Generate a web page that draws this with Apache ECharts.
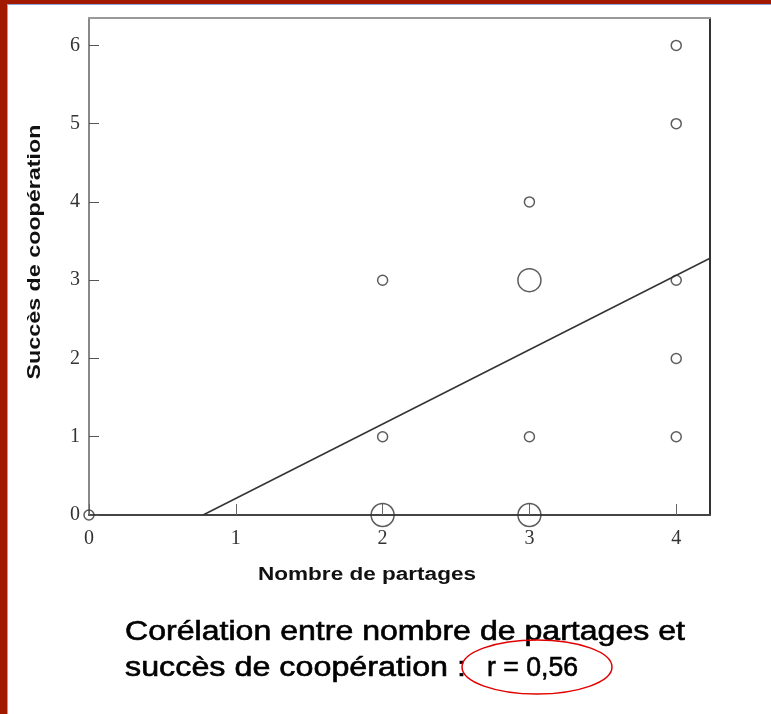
<!DOCTYPE html>
<html><head><meta charset="utf-8">
<script src="https://cdn.jsdelivr.net/npm/echarts@6/dist/echarts.min.js"></script>
<style>html,body{margin:0;padding:0;background:#fff;}#c{width:771px;height:714px;}</style>
</head><body><div id="c"></div>
<script>
// small points (Nombre de partages, Succès de coopération)
const smallPoints = [[0,0],[2,1],[2,3],[3,1],[3,4],[4,1],[4,2],[4,3],[4,5],[4,6]];
// larger (repeated) points
const bigPoints = [[2,0],[3,0],[3,3]];
// regression line end points
const fitLine = [[0.777,0],[4.23,3.28]];
const xTicks = [0,1,2,3,4];
const yTicks = [0,1,2,3,4,5,6];
const xTitle = 'Nombre de partages';
const yTitle = 'Succès de coopération';
const caption1 = 'Corélation entre nombre de partages et';
const caption2a = 'succès de coopération :';
const caption2b = 'r = 0,56';

const ctx = document.createElement('canvas').getContext('2d');
function fit(text, font, width){ ctx.font = font; return width / ctx.measureText(text).width; }
const titleFont = 'bold 18px "Liberation Sans"';
const capFont = '27px "Liberation Sans"';

const chart = echarts.init(document.getElementById('c'));
const lab = {fontFamily:'Liberation Serif', fontSize:20, color:'#333'};
const intFmt = v => (Number.isInteger(v) ? String(v) : '');
const capStyle = {font:capFont, fill:'#000', stroke:'#000', lineWidth:0.6, align:'left', verticalAlign:'middle'};
chart.setOption({
  animation:false,
  backgroundColor:'#fff',
  grid:{left:89, top:18, right:61, bottom:199},
  xAxis:[{
    type:'value', min:0, max:4.23, interval:1,
    axisLine:{onZero:false, lineStyle:{color:'#444', width:2}},
    axisTick:{inside:true, length:11, lineStyle:{color:'#666'}},
    axisLabel:Object.assign({margin:14, formatter:intFmt, showMaxLabel:false}, lab),
    splitLine:{show:false}
  },{
    type:'value', position:'top', min:0, max:4.23,
    axisLine:{show:true, onZero:false, lineStyle:{color:'#999', width:2}},
    axisTick:{show:false}, axisLabel:{show:false}, splitLine:{show:false}
  }],
  yAxis:[{
    type:'value', min:0, max:6.35, interval:1,
    axisLine:{show:true, onZero:false, lineStyle:{color:'#888', width:2}},
    axisTick:{show:true, inside:true, length:10, lineStyle:{color:'#555'}},
    axisLabel:Object.assign({margin:9, formatter:intFmt, showMaxLabel:false}, lab),
    splitLine:{show:false}
  },{
    type:'value', position:'right', min:0, max:6.35,
    axisLine:{show:true, onZero:false, lineStyle:{color:'#333', width:2}},
    axisTick:{show:false}, axisLabel:{show:false}, splitLine:{show:false}
  }],
  series:[
    {type:'line', data:fitLine, showSymbol:false, symbol:'none', clip:true,
     lineStyle:{color:'#333', width:1.5}, z:2},
    {type:'scatter', data:smallPoints, symbol:'circle', symbolSize:10,
     itemStyle:{color:'rgba(255,255,255,0)', borderColor:'#333', borderWidth:1.5}, z:3},
    {type:'scatter', data:bigPoints, symbol:'circle', symbolSize:23,
     itemStyle:{color:'rgba(255,255,255,0)', borderColor:'#333', borderWidth:1.5}, z:3}
  ],
  graphic:[
    {type:'rect', shape:{x:0,y:0,width:771,height:4}, style:{fill:'#a11a00'}},
    {type:'rect', shape:{x:0,y:0,width:7,height:714}, style:{fill:'#a11a00'}},
    {type:'line', shape:{x1:7.5,y1:4,x2:7.5,y2:714}, style:{stroke:'#8aa6e0', lineWidth:1}},
    {type:'line', shape:{x1:7,y1:4.5,x2:771,y2:4.5}, style:{stroke:'#8aa6e0', lineWidth:1}},
    {type:'text', x:367, y:575, scaleX:fit(xTitle, titleFont, 218),
     style:{text:xTitle, font:titleFont, fill:'#111', align:'center', verticalAlign:'middle'}},
    {type:'text', x:35, y:252, rotation:Math.PI/2, scaleX:fit(yTitle, titleFont, 255),
     style:{text:yTitle, font:titleFont, fill:'#111', align:'center', verticalAlign:'middle'}},
    {type:'text', x:125, y:633, scaleX:fit(caption1, capFont, 560),
     style:Object.assign({text:caption1}, capStyle)},
    {type:'text', x:125, y:669, scaleX:fit(caption2a, capFont, 341),
     style:Object.assign({text:caption2a}, capStyle)},
    {type:'text', x:487, y:669, scaleX:fit(caption2b, capFont, 91),
     style:Object.assign({text:caption2b}, capStyle)},
    {type:'ellipse', shape:{cx:537, cy:667, rx:75, ry:27}, style:{fill:'none', stroke:'#e00000', lineWidth:1.5}}
  ]
});
</script></body></html>
